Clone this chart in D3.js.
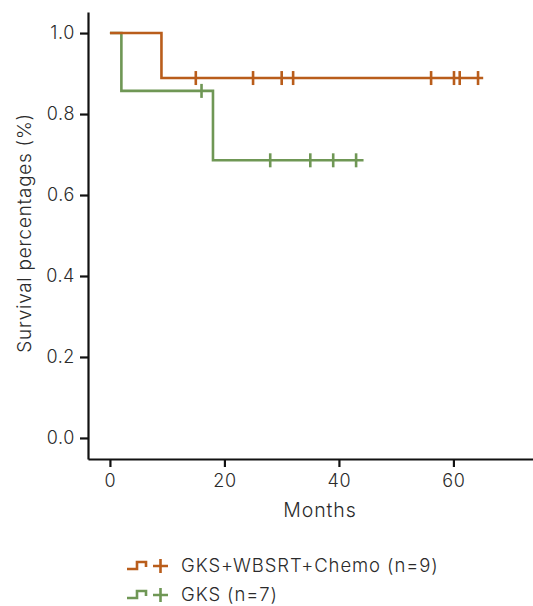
<!DOCTYPE html>
<html>
<head>
<meta charset="utf-8">
<script src="https://cdn.jsdelivr.net/npm/d3@7"></script>
<style>
  body { margin: 0; background: #fff; }
  svg text { font-family: Inter, "Noto Sans", sans-serif; font-weight: 300; fill: #2b2b2b; }
</style>
</head>
<body>
<svg id="chart" width="533" height="606"></svg>
<script>
// Kaplan-Meier data
var seriesNames = ["GKS+WBSRT+Chemo (n=9)", "GKS (n=7)"];
var seriesColors = ["#b95d1b", "#6f9755"];
// step points: [month, survival]
var chemoSteps = [[0, 1.0], [9, 1.0], [9, 8 / 9], [65.2, 8 / 9]];
var gksSteps = [[0, 1.0], [2, 1.0], [2, 6 / 7], [18, 6 / 7], [18, 24 / 35], [44.3, 24 / 35]];
// censored observations
var chemoCensor = [[15, 8 / 9], [25, 8 / 9], [30, 8 / 9], [32, 8 / 9], [56.1, 8 / 9], [60.1, 8 / 9], [61.1, 8 / 9], [64.3, 8 / 9]];
var gksCensor = [[16, 6 / 7], [28, 24 / 35], [35, 24 / 35], [39, 24 / 35], [43, 24 / 35]];
var xTicks = [0, 20, 40, 60];
var yTicks = [0.0, 0.2, 0.4, 0.6, 0.8, 1.0];

var svg = d3.select("#chart");

var x = d3.scaleLinear().domain([-3.83, 73.9]).range([88, 533]);
var y = d3.scaleLinear().domain([-0.052, 1.052]).range([459, 12]);

// axes
var xAxis = svg.append("g")
    .attr("transform", "translate(0,459)")
    .call(d3.axisBottom(x).tickValues(xTicks).tickFormat(d3.format("d")).tickSize(8).tickSizeOuter(0));
var yAxis = svg.append("g")
    .attr("transform", "translate(88,0)")
    .call(d3.axisLeft(y).tickValues(yTicks).tickFormat(d3.format(".1f")).tickSize(8).tickSizeOuter(0));

[xAxis, yAxis].forEach(function (g) {
    g.select(".domain").attr("stroke", "#111").attr("stroke-width", 2.2);
    g.selectAll(".tick line").attr("stroke", "#111").attr("stroke-width", 2.2);
    g.selectAll(".tick text").attr("font-size", 18).attr("letter-spacing", 0.6).style("fill", "#2b2b2b");
});
xAxis.selectAll(".tick text").attr("dy", "0.71em").attr("y", 15);
yAxis.selectAll(".tick text").attr("x", -13);

// axis titles
svg.append("text")
    .attr("x", 320).attr("y", 517)
    .attr("text-anchor", "middle")
    .attr("font-size", 19.5)
    .attr("letter-spacing", 0.9)
    .text("Months");
svg.append("text")
    .attr("transform", "translate(31,233) rotate(-90)")
    .attr("text-anchor", "middle")
    .attr("font-size", 19)
    .attr("letter-spacing", 0.7)
    .text("Survival percentages (%)");

var line = d3.line().x(function (d) { return x(d[0]); }).y(function (d) { return y(d[1]); });

var series = [
    { steps: chemoSteps, censor: chemoCensor },
    { steps: gksSteps, censor: gksCensor }
];

// draw chemo on top of GKS at the shared start
[1, 0].forEach(function (i) {
    var s = series[i];
    var g = svg.append("g");
    g.append("path")
        .datum(s.steps)
        .attr("d", line)
        .attr("fill", "none")
        .attr("stroke", seriesColors[i])
        .attr("stroke-width", 2.6);
    g.selectAll("line.censor")
        .data(s.censor)
        .enter().append("line")
        .attr("class", "censor")
        .attr("x1", function (d) { return x(d[0]); })
        .attr("x2", function (d) { return x(d[0]); })
        .attr("y1", function (d) { return y(d[1]) - 7; })
        .attr("y2", function (d) { return y(d[1]) + 7; })
        .attr("stroke", seriesColors[i])
        .attr("stroke-width", 2.6);
});

// legend
var legend = svg.append("g");
seriesNames.forEach(function (name, i) {
    var ly = 566 + i * 29;
    var row = legend.append("g").attr("transform", "translate(0," + ly + ")");
    // step glyph
    row.append("path")
        .attr("d", "M127,3 H137 V-4 H146 V1")
        .attr("fill", "none")
        .attr("stroke", seriesColors[i])
        .attr("stroke-width", 2.6);
    // plus glyph
    row.append("path")
        .attr("d", "M153,0 H168 M160.5,-7 V7")
        .attr("fill", "none")
        .attr("stroke", seriesColors[i])
        .attr("stroke-width", 2.6);
    row.append("text")
        .attr("x", 181).attr("y", 0)
        .attr("dy", "0.35em")
        .attr("font-size", 18.5)
        .attr("letter-spacing", 0.9)
        .text(name);
});
</script>
</body>
</html>
